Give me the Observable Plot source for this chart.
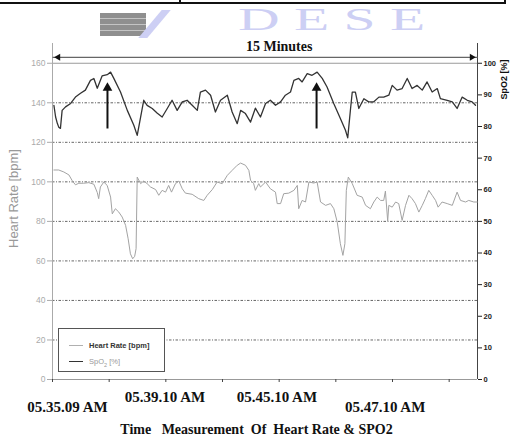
<!DOCTYPE html>
<html>
<head>
<meta charset="utf-8">
<script src="https://cdn.jsdelivr.net/npm/d3@7"></script>
<script src="https://cdn.jsdelivr.net/npm/@observablehq/plot@0.6"></script>
<style>
  html, body { margin: 0; padding: 0; background: #fff; }
  body { width: 514px; height: 437px; overflow: hidden; position: relative; font-family: "Liberation Sans", Arial, sans-serif; }
  #chart { position: absolute; left: 0; top: 0; }
  .topline { position: absolute; background: #111; }
  #wm { position: absolute; left: 238px; top: 2px; font: 32px/34px "Liberation Serif", serif; color: #cdcff4; letter-spacing: 8px; white-space: nowrap; transform: scaleX(1.8); transform-origin: 0 0; }
  #logo { position: absolute; left: 100px; top: 13px; width: 46px; height: 23px;
          background: repeating-linear-gradient(180deg, #8f8f8f 0 5px, #c4c4c4 5px 6px); }
  #slash { position: absolute; left: 150px; top: 10px; width: 9px; height: 28px; background: #cdcff4; transform: skewX(-40deg); }
  #legend { position: absolute; left: 58px; top: 328px; width: 105px; height: 42px; border: 1px solid #555; background: #fff; }
  #legend .sw { position: absolute; left: 10px; width: 14px; height: 0; }
  #legend .tx { position: absolute; left: 30px; font-size: 7.5px; line-height: 9px; white-space: nowrap; font-weight: bold; }
</style>
</head>
<body>
<div class="topline" style="left:0;top:2px;width:506px;height:2px"></div>
<div class="topline" style="left:179px;top:0;width:2px;height:4px"></div>
<div class="topline" style="left:504px;top:0;width:2px;height:4px"></div>
<div id="logo"></div>
<div id="slash"></div>
<div id="wm">DESE</div>
<div id="chart"></div>
<div id="legend">
  <div class="sw" style="top:16px;border-top:1px solid #b0b0b0"></div>
  <div class="tx" style="top:12px;color:#333">Heart Rate [bpm]</div>
  <div class="sw" style="top:32px;border-top:1.5px solid #333"></div>
  <div class="tx" style="top:28px;color:#999;font-weight:normal">SpO<sub style="font-size:5.5px">2</sub> [%]</div>
</div>
<script>
// ---- Data (minutes since 05.35.09 AM) ----
const hrTime = [0.05,0.22,0.40,0.58,0.70,0.81,0.93,1.10,1.28,1.46,1.58,1.63,1.69,1.81,1.93,2.05,2.11,2.22,2.34,2.46,2.58,2.67,2.75,2.83,2.90,2.95,2.99,3.11,3.22,3.34,3.46,3.64,3.75,3.87,3.99,4.10,4.20,4.34,4.46,4.58,4.69,4.93,5.16,5.34,5.46,5.64,5.81,5.99,6.17,6.34,6.52,6.64,6.81,6.93,6.99,7.10,7.16,7.28,7.34,7.52,7.69,7.87,7.93,8.05,8.16,8.34,8.52,8.64,8.69,8.81,8.93,9.05,9.22,9.34,9.46,9.64,9.81,9.93,10.05,10.16,10.25,10.32,10.37,10.44,10.58,10.75,10.93,11.05,11.22,11.34,11.46,11.58,11.69,11.75,11.83,11.87,11.99,12.11,12.22,12.34,12.46,12.58,12.69,12.81,12.93,13.05,13.16,13.28,13.40,13.52,13.61,13.75,13.93,14.11,14.28,14.40,14.58,14.69,14.87,14.99];
const hrValue = [106,106,105,103.5,100.5,98.5,99.3,99.3,99.6,98.8,94.6,91.5,97.4,99.9,98.2,92.3,83.8,86.4,84.7,82.2,78,71.2,63.6,61.1,62.3,66.2,102.4,99.1,100.4,99.1,97.4,96.1,93.2,95.7,94.8,98.2,94.8,99.1,100.4,96.5,94.3,93.7,91.5,90.6,93.2,96.1,99.9,99.1,103.3,105.8,108.4,109.5,108.4,105.8,100.8,99.1,95.7,99.1,97.4,99.9,96.5,94.8,89,89,94,94.3,95.7,98.2,86.4,90.6,89.8,99.9,99.4,99.9,89.8,88.1,89,86.4,79.6,68.7,62.8,68.7,95.7,102.4,99.1,93.2,92.3,88.1,86.4,89.8,92.3,90.6,90.6,95.3,80.2,88.1,87.2,89.8,89,80.5,88.1,93.2,91.5,89,84.7,88.1,91.5,95.7,93.2,90.6,87.2,89.8,89,88.1,94.8,90.6,89.8,90.6,89.8,89.8];

const spo2Time = [0.05,0.11,0.17,0.22,0.28,0.34,0.46,0.64,0.81,0.99,1.16,1.34,1.46,1.58,1.75,1.93,2.05,2.16,2.40,2.64,2.87,2.99,3.11,3.22,3.34,3.52,3.70,3.87,4.05,4.22,4.40,4.58,4.75,4.93,5.11,5.22,5.40,5.58,5.75,5.93,6.17,6.34,6.52,6.64,6.81,6.99,7.16,7.34,7.52,7.69,7.87,8.05,8.22,8.40,8.52,8.69,8.81,8.99,9.16,9.34,9.52,9.69,9.93,10.16,10.34,10.42,10.52,10.58,10.69,10.81,10.99,11.16,11.34,11.52,11.69,11.87,11.99,12.16,12.34,12.52,12.69,12.87,13.05,13.22,13.40,13.58,13.69,13.93,14.11,14.28,14.46,14.64,14.81,14.93];
const spo2Value = [86.7,83.0,81.0,79.8,79.4,85.1,86.2,87.3,89.3,90.5,91.5,94.6,95.2,92.1,96.0,96.4,97.2,95.3,90.9,85.1,80.4,77.2,83.0,88.3,86.7,85.7,84.2,83.0,85.7,88.3,85.1,87.8,88.3,86.7,85.1,90.9,91.5,89.9,84.6,88.3,89.9,84.6,80.9,85.1,84.1,81.4,85.8,83.0,87.3,88.3,86.7,87.8,89.9,90.9,94.6,95.2,94.1,96.7,96.2,97.2,95.2,92.5,87.2,82.5,78.8,76.4,85.7,90.9,90.9,85.7,88.8,87.8,87.8,89.3,89.3,89.9,93.0,91.5,92.0,95.2,92.0,93.0,91.5,94.1,90.9,92.0,88.8,88.3,87.8,85.7,89.3,88.3,87.8,86.7];

// ---- Axis ticks / labels ----
const hrTicks = [0,20,40,60,80,100,120,140,160];
const spo2Ticks = [0,10,20,30,40,50,60,70,80,90,100];
const gridLevels = [20,40,60,80,100,120,140];
const timeTicks = [0,2,4,6,8,10,12,14];
const totalMinutes = 15;
const timeLabels = ["05.35.09 AM","05.39.10 AM","05.45.10 AM","05.47.10 AM"];
const timeLabelAt = [0.53, 3.97, 7.92, 11.74];
const timeLabelRow = [2, 1, 1, 2];
const arrowTimes = [1.94, 9.32];
const arrowFrom = 127, arrowTo = 147.5;
const spanLevel = 163;
const spanText = "15 Minutes";
const leftLabel = "Heart Rate [bpm]";
const rightLabel = "SpO2 [%]";
const caption = "Time\u00a0\u00a0 Measurement\u00a0 Of\u00a0 Heart Rate & SPO2";

// SpO2 is drawn against the right axis: 100 % aligns with 160 bpm
const k = hrTicks[hrTicks.length - 1] / spo2Ticks[spo2Ticks.length - 1];
const hr = hrTime.map((t, i) => ({t, v: hrValue[i]}));
const sp = spo2Time.map((t, i) => ({t, v: spo2Value[i] * k}));
const labels = timeLabels.map((s, i) => ({s, t: timeLabelAt[i], row: timeLabelRow[i]}));
const arrows = arrowTimes.map(t => ({t}));

const serif = "'Liberation Serif', 'Times New Roman', serif";

const chart = Plot.plot({
  width: 514, height: 437,
  marginLeft: 52, marginRight: 37, marginTop: 43, marginBottom: 58,
  x: {domain: [0, totalMinutes]},
  y: {domain: [0, 170]},
  style: {background: "transparent", fontFamily: "'Liberation Sans', Arial, sans-serif", overflow: "visible"},
  marks: [
    Plot.ruleY(gridLevels, {stroke: "#555", strokeWidth: 0.9, strokeDasharray: "2.5,1.5,1,1.5"}),
    Plot.ruleY([hrTicks[hrTicks.length - 1]], {stroke: "#9a9a9a", strokeWidth: 1.2}),
    Plot.ruleX([0], {stroke: "#aaa"}),
    Plot.ruleX([totalMinutes], {stroke: "#444"}),
    Plot.ruleY([0], {stroke: "#999"}),
    Plot.axisY({anchor: "left", ticks: hrTicks, tickSize: 5, tickPadding: 2, color: "#aaa", fontSize: 8.5, label: null}),
    Plot.axisY({anchor: "right", ticks: spo2Ticks.map(v => v * k), tickFormat: d => String(Math.round(d / k)),
                tickSize: 4, tickPadding: 2, color: "#222", fontSize: 7.5, fontWeight: "bold", label: null}),
    Plot.axisX({ticks: timeTicks, tickFormat: () => "", tickSize: 3, color: "#444", label: null}),
    Plot.line(hr, {x: "t", y: "v", stroke: "#a3a3a3", strokeWidth: 1}),
    Plot.line(sp, {x: "t", y: "v", stroke: "#333", strokeWidth: 1.3}),
    // annotation arrows
    Plot.link(arrows, {x1: "t", x2: "t", y1: () => arrowFrom, y2: () => arrowTo, stroke: "#111", strokeWidth: 2}),
    Plot.dot(arrows, {x: "t", y: () => arrowTo, symbol: "triangle", r: 3.6, fill: "#111", stroke: null}),
    // 15 minute span
    Plot.link([{a: 0, b: totalMinutes}], {x1: "a", x2: "b", y1: () => spanLevel, y2: () => spanLevel, stroke: "#666", strokeWidth: 1.2}),
    Plot.dot([{t: 0.2, r: -90}, {t: totalMinutes - 0.2, r: 90}], {x: "t", y: () => spanLevel, rotate: "r", symbol: "triangle", r: 2.6, fill: "#111", stroke: null}),
    Plot.text([spanText], {x: () => 8.0, frameAnchor: "top", textAnchor: "middle", lineAnchor: "middle", dy: 3, fontFamily: serif, fontWeight: "bold", fontSize: 14, fill: "#111"}),
    // axis titles
    Plot.text([leftLabel], {frameAnchor: "left", textAnchor: "middle", lineAnchor: "middle", rotate: -90, dx: -39, dy: -13, fontSize: 13, fill: "#999"}),
    Plot.text([rightLabel], {frameAnchor: "top-right", textAnchor: "middle", lineAnchor: "middle", rotate: -90, dx: 27, dy: 36, fontSize: 9, fontWeight: "bold", fill: "#111"}),
    // time annotations below the axis
    Plot.text(labels.filter(d => d.row === 1), {x: "t", text: "s", frameAnchor: "bottom", lineAnchor: "middle", dy: 18, fontFamily: serif, fontWeight: "bold", fontSize: 15, fill: "#111"}),
    Plot.text(labels.filter(d => d.row === 2), {x: "t", text: "s", frameAnchor: "bottom", lineAnchor: "middle", dy: 28, fontFamily: serif, fontWeight: "bold", fontSize: 15, fill: "#111"}),
    Plot.text([caption], {x: () => 7.2, frameAnchor: "bottom", lineAnchor: "middle", dy: 50, fontFamily: serif, fontWeight: "bold", fontSize: 14, fill: "#111"})
  ]
});
document.getElementById("chart").appendChild(chart);
</script>
</body>
</html>
